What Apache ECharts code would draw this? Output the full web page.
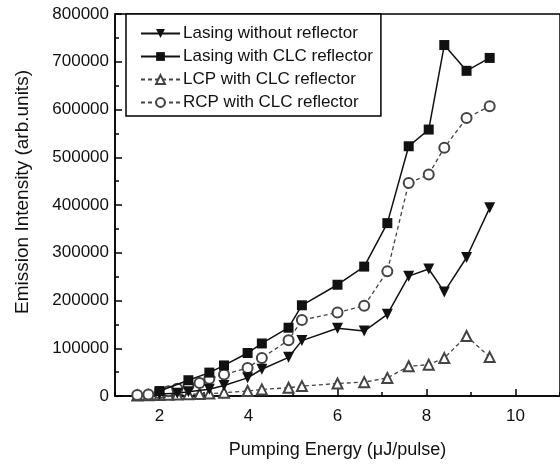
<!DOCTYPE html>
<html>
<head>
<meta charset="utf-8">
<script src="https://cdn.jsdelivr.net/npm/echarts@6/dist/echarts.min.js"></script>
<style>
html,body{margin:0;padding:0;background:#fff;}
#chart{width:560px;height:464px;}
</style>
</head>
<body>
<div id="chart"></div>
<script>
// Pumping energy (uJ/pulse)
var energy = [1.5, 1.75, 2.0, 2.2, 2.4, 2.65, 2.9, 3.12, 3.45, 3.98, 4.3, 4.9, 5.2, 6.0, 6.6, 7.12, 7.6, 8.05, 8.4, 8.9, 9.42];
// Emission intensity (arb.units)
var lasingWithout = [null, null, 4000, null, 6000, 9000, null, 14000, 22000, 38000, 56000, 81000, 116000, 142000, 136000, 171000, 251000, 266000, 218000, 290000, 394000];
var lasingWithCLC = [null, null, 10400, null, null, 33000, null, 49000, 64000, 90000, 110000, 143000, 190000, 233000, 271000, 362000, 523000, 558000, 735000, 681000, 708000];
var lcpWithCLC = [1000, 1500, 2000, 2500, 3000, 3500, 4000, 5000, 7000, 10400, 13800, 17200, 20700, 26300, 29000, 37900, 62200, 65700, 79400, 125800, 81500];
var rcpWithCLC = [2000, 3000, 6000, 10000, 15000, 21000, 27000, 36000, 45000, 58700, 79400, 117000, 159000, 175000, 189000, 261000, 446000, 464000, 520000, 582000, 607000];
var seriesNames = ['Lasing without reflector', 'Lasing with CLC reflector', 'LCP with CLC reflector', 'RCP with CLC reflector'];
var xMajorTicks = [2, 4, 6, 8, 10];
var xMinorTicks = [1, 3, 5, 7, 9, 11];

function pairs(vals) {
  var out = [];
  for (var i = 0; i < energy.length; i++) {
    if (vals[i] !== null) out.push([energy[i], vals[i]]);
  }
  return out;
}

var font = 'Liberation Sans, Arial, sans-serif';
var chart = echarts.init(document.getElementById('chart'));
chart.setOption({
  animation: false,
  backgroundColor: '#fff',
  textStyle: {fontFamily: font},
  grid: {left: 115, top: 14, width: 446, height: 386, show: true, borderColor: '#000', borderWidth: 1.5, containLabel: false},
  legend: {
    orient: 'vertical',
    left: 126, top: 14,
    padding: [11, 8, 5, 14],
    itemGap: 6,
    itemWidth: 39, itemHeight: 11,
    borderColor: '#000', borderWidth: 1.5,
    backgroundColor: '#fff',
    textStyle: {fontSize: 17, color: '#111', fontFamily: font, padding: [0, 0, 0, -2]},
    data: seriesNames
  },
  xAxis: [{
    type: 'value', min: 1, max: 11,
    name: 'Pumping Energy (\u03bcJ/pulse)', nameLocation: 'middle', nameGap: 45,
    nameTextStyle: {fontSize: 18, color: '#111', fontFamily: font},
    axisLine: {show: true, lineStyle: {color: '#000', width: 1.5}},
    axisTick: {show: true, inside: true, length: 7, lineStyle: {color: '#000', width: 1.5}, customValues: xMajorTicks},
    axisLabel: {fontSize: 17, color: '#111', margin: 12, customValues: xMajorTicks, fontFamily: font},
    splitLine: {show: false}
  }, {
    type: 'value', min: 1, max: 11, position: 'bottom', gridIndex: 0,
    axisLine: {show: false},
    axisTick: {show: true, inside: true, length: 4, lineStyle: {color: '#000', width: 1.5}, customValues: xMinorTicks},
    axisLabel: {show: false},
    splitLine: {show: false}
  }],
  yAxis: [{
    type: 'value', min: 0, max: 800000, interval: 100000,
    name: 'Emission Intensity (arb.units)', nameLocation: 'middle', nameGap: 83,
    nameTextStyle: {fontSize: 19, color: '#111', fontFamily: font, padding: [0, 0, 0, 26]},
    axisLine: {show: true, lineStyle: {color: '#000', width: 1.5}},
    axisTick: {show: true, inside: true, length: 7, lineStyle: {color: '#000', width: 1.5}},
    minorTick: {show: true, splitNumber: 2, length: 4, lineStyle: {color: '#000', width: 1.5}},
    axisLabel: {fontSize: 17, color: '#111', margin: 6, fontFamily: font, formatter: function (v) { return String(v); }},
    splitLine: {show: false}
  }],
  series: [
    {
      name: seriesNames[0], type: 'line', data: pairs(lasingWithout),
      symbol: 'triangle', symbolRotate: 180, symbolSize: 11,
      lineStyle: {color: '#111', width: 1.5},
      itemStyle: {color: '#111'}, z: 4
    },
    {
      name: seriesNames[1], type: 'line', data: pairs(lasingWithCLC),
      symbol: 'rect', symbolSize: 10,
      lineStyle: {color: '#111', width: 1.5},
      itemStyle: {color: '#111'}, z: 3
    },
    {
      name: seriesNames[2], type: 'line', data: pairs(lcpWithCLC),
      symbol: 'emptyTriangle', symbolSize: 10,
      lineStyle: {color: '#444', width: 1.3, type: [4, 3]},
      itemStyle: {color: '#444', borderWidth: 1.3}, z: 2
    },
    {
      name: seriesNames[3], type: 'line', data: pairs(rcpWithCLC),
      symbol: 'emptyCircle', symbolSize: 10,
      lineStyle: {color: '#444', width: 1.3, type: [4, 3]},
      itemStyle: {color: '#444', borderWidth: 1.3}, z: 2
    }
  ]
});
</script>
</body>
</html>
